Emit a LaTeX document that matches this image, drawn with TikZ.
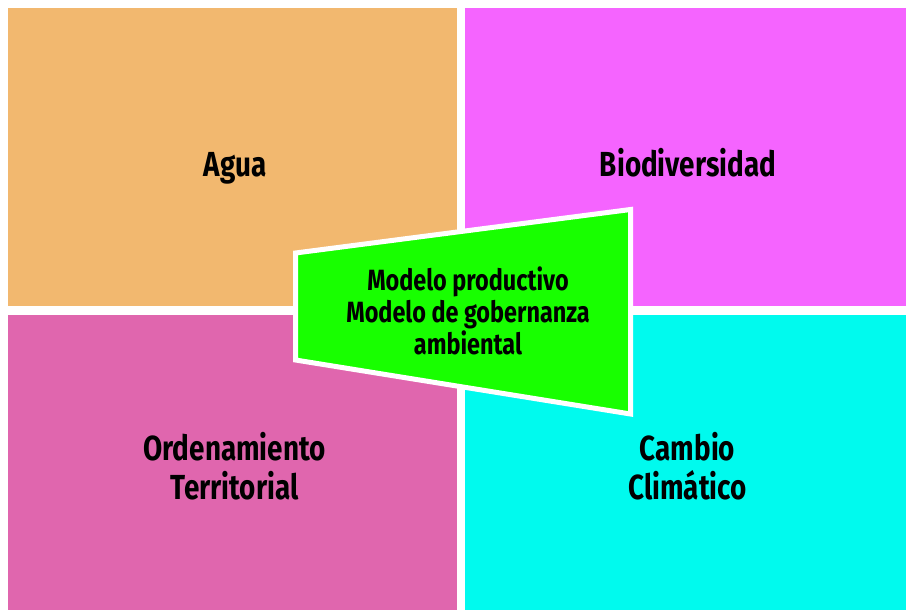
\documentclass[tikz,border=0pt]{standalone}
\usepackage{fontspec}
\setmainfont{Fira Sans}[FakeStretch=0.8]
\definecolor{cOrange}{HTML}{F2B86F}
\definecolor{cMagenta}{HTML}{F564FF}
\definecolor{cPink}{HTML}{E066AE}
\definecolor{cCyan}{HTML}{00FAEE}
\definecolor{cGreen}{HTML}{18FF00}
\begin{document}
\begin{tikzpicture}[x=1pt,y=-1pt,
  title/.style={font=\fontsize{34.8}{39}\selectfont\bfseries, align=center, inner sep=0pt, anchor=base},
  ctext/.style={font=\fontsize{30.5}{32}\selectfont\bfseries, align=center, inner sep=0pt, anchor=base}]
\useasboundingbox (0,0) rectangle (906,610);
\fill[white] (0,0) rectangle (906,610);
\fill[cOrange] (8,8) rectangle (457,306);
\fill[cMagenta] (465,8) rectangle (906,306);
\fill[cPink] (8,315) rectangle (457,610);
\fill[cCyan] (465,315) rectangle (906,610);
\node[title] (agua) at (235,176.7) {Agua};
\node[title] (bio) at (688,176.5) {Biodiversidad};
\node[title] (ord) at (234.5,499) {Ordenamiento\\Territorial};
\node[title] (cam) at (687.5,499) {Cambio\\Climático};
\filldraw[fill=cGreen, draw=white, line width=5pt, line join=miter]
  (295.5,253) -- (630.5,209.5) -- (630.5,414) -- (295.5,360) -- cycle;
\node[ctext, font=\fontsize{29.3}{32}\selectfont\bfseries] (mod) at (468,354) {Modelo productivo\\Modelo de gobernanza\\ambiental};
\end{tikzpicture}
\end{document}
